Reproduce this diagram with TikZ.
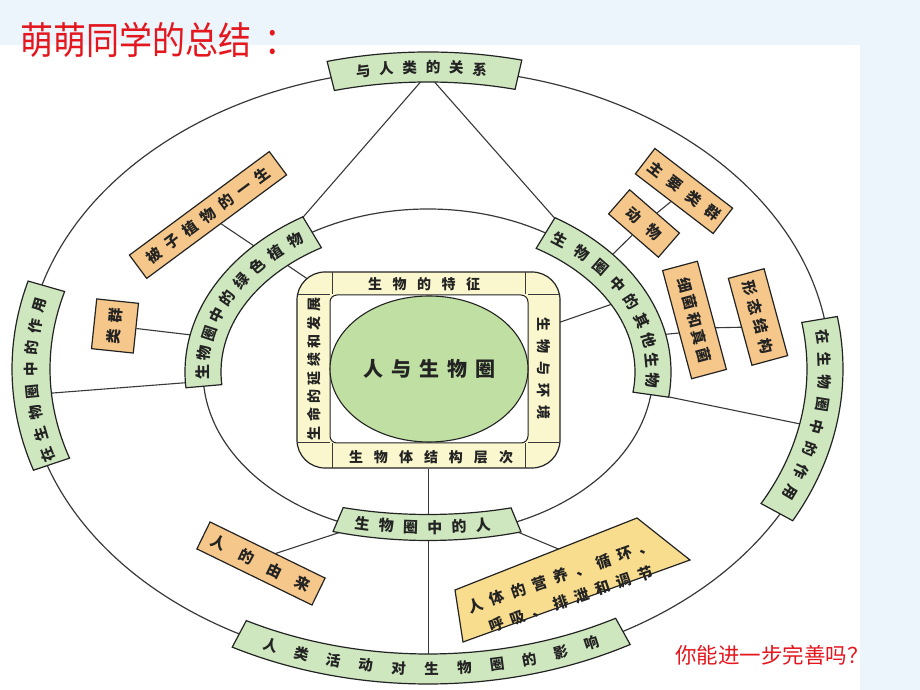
\documentclass[tikz,border=0pt]{standalone}
\usepackage{fontspec}
\usepackage{graphicx}
\newfontfamily\cjk{Noto Sans CJK SC}
\usetikzlibrary{shapes.geometric}
\pgfdeclarelayer{back}
\pgfdeclarelayer{lines}
\pgfsetlayers{back,lines,main}
\definecolor{bgblue}{RGB}{237,245,252}
\definecolor{lgreen}{RGB}{206,231,190}
\definecolor{cgreen}{RGB}{192,223,162}
\definecolor{lorange}{RGB}{245,199,138}
\definecolor{lyellow}{RGB}{250,247,206}
\definecolor{dyellow}{RGB}{248,221,143}
\definecolor{ink}{RGB}{35,35,35}
\definecolor{titlered}{RGB}{228,22,30}
\makeatletter
\newcommand\spc[2]{\def\spc@g{#1}\spc@b#2\@nil}
\def\spc@b#1#2\@nil{#1\ifx\relax#2\relax\else\hspace{\spc@g}\spc@b#2\@nil\fi}
\makeatother
% text along an ellipse: #1 name, #2 rx, #3 ry, #4 start angle, #5 step, #6 style, #7 chars
\newcommand\arctext[7]{%
  \foreach \ch [count=\ci from 0] in {#7}{%
    \pgfmathsetmacro\myt{#4+\ci*(#5)}%
    \pgfmathsetmacro\mys{ifthenelse(#5<0,-1,1)}%
    \pgfmathsetmacro\myang{atan2(\mys*(#3)*cos(\myt),-\mys*(#2)*sin(\myt))}%
    \node[#6,rotate=\myang] (#1\ci) at ({(#2)*cos(\myt)},{(#3)*sin(\myt)}) {\ch};
  }}
% band along an ellipse: #1 style, #2 rx, #3 ry, #4 half width, #5 t1, #6 t2
\newcommand\arcband[6]{%
  \pgfmathsetmacro\rxo{#2+#4}\pgfmathsetmacro\ryo{#3+#4}%
  \pgfmathsetmacro\rxi{#2-#4}\pgfmathsetmacro\ryi{#3-#4}%
  \path[#1] ({\rxo*cos(#5)},{\ryo*sin(#5)}) arc[start angle=#5,end angle=#6,x radius=\rxo,y radius=\ryo]
    -- ({\rxi*cos(#6)},{\ryi*sin(#6)}) arc[start angle=#6,end angle=#5,x radius=\rxi,y radius=\ryi] -- cycle;}
\tikzset{
  ring/.style={draw=ink!90, line width=1.2pt},
  conn/.style={draw=ink!90, line width=1.1pt},
  divline/.style={draw=ink!90, line width=1pt},
  gband/.style={draw=ink, line width=1.2pt, fill=lgreen},
  otxt/.style={font=\cjk\bfseries\fontsize{14.5}{14.5}\selectfont, text=ink, inner sep=0pt},
  gtxt/.style={font=\cjk\bfseries\fontsize{15}{15}\selectfont, text=ink, inner sep=0pt},
  stxt/.style={font=\cjk\bfseries\fontsize{14}{14}\selectfont, text=ink, inner sep=0pt},
  btxt/.style={font=\cjk\bfseries\fontsize{15}{15}\selectfont, text=ink, inner sep=0pt},
  obox/.style={draw=ink, line width=1.2pt, fill=lorange, inner sep=0pt,
    font=\cjk\bfseries\fontsize{15}{15}\selectfont, text=ink},
}
\begin{document}
\begin{tikzpicture}[x=1pt,y=1pt]
\useasboundingbox (0,0) rectangle (920,690);
\begin{pgfonlayer}{back}
  \fill[bgblue] (0,0) rectangle (920,690);
  \fill[white] (0,0) rectangle (860,645);
  \draw[ring] (428,321) ellipse [x radius=402, y radius=300];
  \draw[ring] (428,318) ellipse [x radius=225, y radius=163];
\end{pgfonlayer}

% title and question
\node[anchor=west, text=titlered, font=\cjk\fontsize{33}{33}\selectfont, inner sep=0pt] (title) at (20,650) {\scalebox{1}[1.15]{萌萌同学的总结\hspace{13pt}：}};
\node[anchor=west, text=titlered, font=\cjk\fontsize{21.5}{21.5}\selectfont, inner sep=0pt] (ask) at (675,35) {你能进一步完善吗？};

% outer ring labels
\begin{scope}[shift={(428,321)}]
  \arcband{gband}{402}{302}{15}{104}{77}
  \arctext{top}{402}{302}{99.3}{-3.34}{otxt}{与,人,类,的,关,系}
  \arcband{gband}{397}{300}{19}{164}{198.5}
  \arctext{lft}{397}{300}{196.7}{-4.14}{otxt}{在,生,物,圈,中,的,作,用}
  \arcband{gband}{397}{300}{18}{9.5}{-28.5}
  \arctext{rgt}{397}{300}{6.1}{-4.33}{otxt}{在,生,物,圈,中,的,作,用}
  \arcband{gband}{402}{300}{15}{242}{299}
  \arctext{bot}{402}{300}{247}{4.7}{otxt}{人,类,活,动,对,生,物,圈,的,影,响}
\end{scope}

% middle ring labels
\begin{scope}[shift={(428,318)}]
  \arcband{gband}{225}{163}{18}{121}{185}
  \arctext{gl}{225}{163}{180}{-6.75}{gtxt}{生,物,圈,中,的,绿,色,植,物}
  \arcband{gband}{225}{163}{18}{58.5}{-8}
  \arctext{gr}{225}{163}{54}{-7.125}{gtxt}{生,物,圈,中,的,其,他,生,物}
\end{scope}
\begin{scope}[shift={(428,262.5)}]
  \arcband{gband}{230}{100}{13}{247}{292.5}
  \arctext{gm}{230}{100}{253.5}{6.06}{gtxt}{生,物,圈,中,的,人}
\end{scope}

% central square
\node[draw=ink, line width=1.2pt, fill=lyellow, rounded corners=28pt, minimum width=263pt, minimum height=196pt, inner sep=0pt] (sq) at (428.5,320) {};
\node[draw=ink, line width=1pt, fill=white, rounded corners=7pt, minimum width=198pt, minimum height=148pt, inner sep=0pt] (sqin) at (429,321) {};
\node[ellipse, draw=ink, line width=1.1pt, fill=cgreen, minimum width=198pt, minimum height=146pt, inner sep=0pt, font=\cjk\bfseries\fontsize{20}{20}\selectfont, text=ink] (core) at (429,321) {\spc{8pt}{人与生物圈}};
\draw[divline] (332,418) -- (332,395.5);
\draw[divline] (525,418) -- (525,395.5);
\draw[divline] (332,246.5) -- (332,222);
\draw[divline] (525,246.5) -- (525,222);
\draw[divline] (297,395) -- (330,395);
\draw[divline] (297,247) -- (330,247);
\draw[divline] (528,395) -- (560,395);
\draw[divline] (528,247) -- (560,247);
\node[stxt] (sqT) at (424,406) {\spc{10.5pt}{生物的特征}};
\node[stxt] (sqB) at (431,233) {\spc{11pt}{生物体结构层次}};
\node[stxt, rotate=90] (sqL) at (314,321) {\spc{4.3pt}{生命的延续和发展}};
\node[stxt, rotate=-90] (sqR) at (544,321) {\spc{8pt}{生物与环境}};

% orange boxes
\node[obox, rotate=36.5, minimum width=174pt, minimum height=29pt] (bz) at (208,475) {\spc{7.4pt}{被子植物的一生}};
\node[obox, rotate=84, minimum width=50pt, minimum height=42pt] (lq) at (115,364) {\spc{6pt}{类群}};
\node[obox, rotate=-37.5, minimum width=98pt, minimum height=32pt] (zy) at (684,499) {\spc{9pt}{主要类群}};
\node[obox, rotate=-41, minimum width=66pt, minimum height=32pt] (dw) at (644,466.5) {\spc{12pt}{动物}};
\node[obox, rotate=-75, minimum width=112pt, minimum height=36pt] (xj) at (694.5,370) {\spc{3pt}{细菌和真菌}};
\node[obox, rotate=-74.8, minimum width=90pt, minimum height=37pt] (xt) at (758,373) {\spc{5pt}{形态结构}};
\node[obox, rotate=-26, minimum width=128pt, minimum height=30pt] (rd) at (261,126.5) {\spc{16pt}{人的由来}};
\draw[draw=ink, line width=1.2pt, fill=dyellow] (455,100) -- (637,172) -- (690,130) -- (463,48) -- cycle;
\node[btxt, rotate=19] (body1) at (561,114) {\spc{7.5pt}{人体的营养、循环、}};
\node[btxt, rotate=19] (body2) at (571,91) {\spc{7.5pt}{呼吸、排泄和调节}};

% connector end points
\coordinate (topA) at (424,612);
\coordinate (topB) at (431,612);
\coordinate (gLtop) at (298,467);
\coordinate (gRtop) at (558,468);
\coordinate (lftC) at (40,296);
\coordinate (gLbot) at (195,308);
\coordinate (gRbot) at (640,299);
\coordinate (rgtC) at (810,264);
\coordinate (gLmid) at (271.7,435.3);
\coordinate (sqTL) at (312,408);
\coordinate (sqRc) at (552,365);
\coordinate (gRmid) at (618,388);
\coordinate (botC) at (428.5,25);
\coordinate (gLbz) at (263,438);
\coordinate (gLlq) at (200,354);
\coordinate (gRdw) at (605,428);
\coordinate (gRxj) at (648,354);
\coordinate (xjL) at (700,359);
\coordinate (xjR) at (705,362);
\coordinate (xtL) at (752,363);
\coordinate (rdC) at (265,133);
\coordinate (gMl) at (347,160);
\coordinate (gMr) at (508,162);
\coordinate (bodyT) at (580,132);

\begin{pgfonlayer}{lines}
  \draw[conn] (topA) -- (gLtop);
  \draw[conn] (topB) -- (gRtop);
  \draw[conn] (lftC) -- (gLbot);
  \draw[conn] (gRbot) -- (rgtC);
  \draw[conn] (gLmid) -- (sqTL);
  \draw[conn] (sqRc) -- (gRmid);
  \draw[conn] (sq.south) -- (botC);
  \draw[conn] (bz) -- (gLbz);
  \draw[conn] (lq) -- (gLlq);
  \draw[conn] (dw) -- (gRdw);
  \draw[conn] (dw) -- (zy);
  \draw[conn] (gRxj) -- (xjL);
  \draw[conn] (xjR) -- (xtL);
  \draw[conn] (rdC) -- (gMl);
  \draw[conn] (gMr) -- (bodyT);
\end{pgfonlayer}
\end{tikzpicture}
\end{document}
